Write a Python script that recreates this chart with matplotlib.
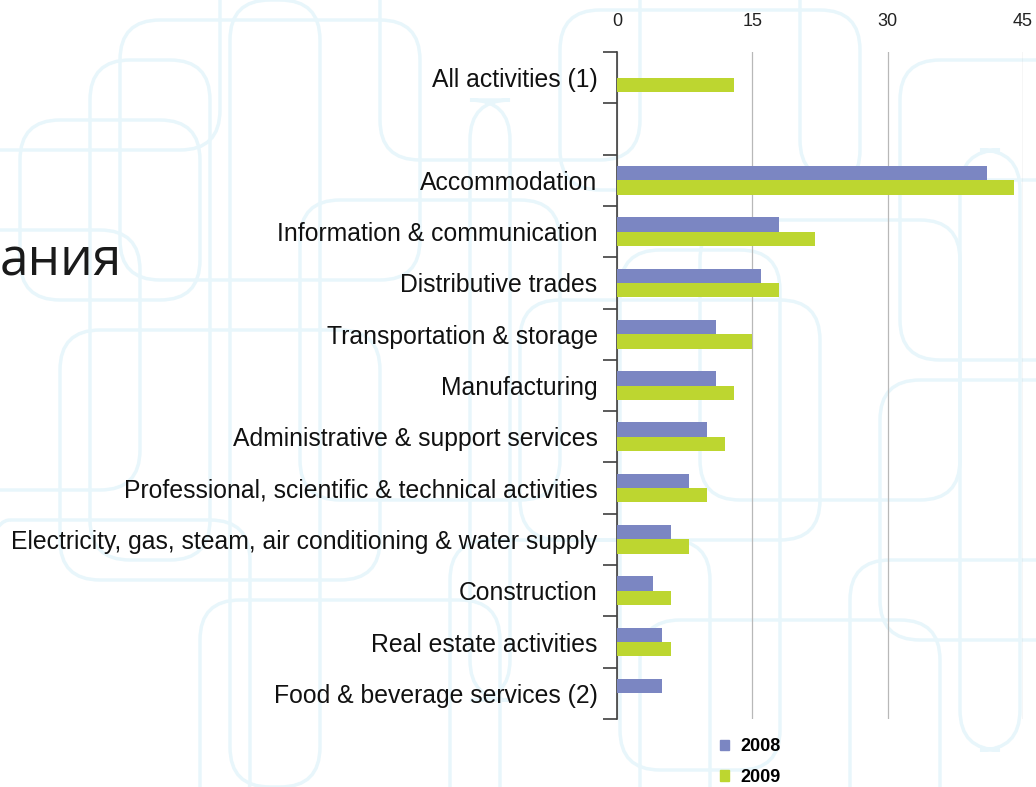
import matplotlib
matplotlib.use("Agg")
import matplotlib.pyplot as plt
import numpy as np
from matplotlib.patches import FancyBboxPatch, Patch

# Sectors, top to bottom (blank row between the total and the sectors)
categories = [
    "All activities (1)",
    "",
    "Accommodation",
    "Information & communication",
    "Distributive trades",
    "Transportation & storage",
    "Manufacturing",
    "Administrative & support services",
    "Professional, scientific & technical activities",
    "Electricity, gas, steam, air conditioning & water supply",
    "Construction",
    "Real estate activities",
    "Food & beverage services (2)",
]
values_2008 = [0, 0, 41, 18, 16, 11, 11, 10, 8, 6, 4, 5, 5]
values_2009 = [13, 0, 44, 22, 18, 15, 13, 12, 10, 8, 6, 6, 0]
x_ticks = [0, 15, 30, 45]

C2008 = "#7B86C2"
C2009 = "#BDD630"

plt.rcParams["font.family"] = ["Liberation Sans", "DejaVu Sans"]

fig = plt.figure(figsize=(10.36, 7.87), dpi=100)
fig.patch.set_facecolor("white")

# faint rounded-rectangle backdrop pattern
bg = fig.add_axes([0, 0, 1, 1], zorder=0)
bg.set_xlim(0, 1036)
bg.set_ylim(787, 0)
bg.axis("off")
boxes = [
    (-40, -60, 260, 210), (120, 20, 300, 260), (380, -40, 260, 200),
    (560, 10, 300, 180), (800, -50, 300, 230), (900, 60, 200, 300),
    (-60, 230, 200, 260), (60, 330, 320, 250), (300, 200, 260, 300),
    (520, 300, 300, 240), (700, 220, 260, 280), (880, 380, 220, 260),
    (-30, 520, 280, 300), (200, 600, 300, 240), (450, 540, 260, 300),
    (640, 620, 300, 220), (850, 560, 240, 300), (20, 120, 180, 180),
    (90, 60, 120, 500), (230, 0, 90, 787), (470, 100, 40, 600),
    (620, 250, 160, 520), (960, 150, 60, 600),
]
for x0, y0, w, h in boxes:
    bg.add_patch(FancyBboxPatch((x0, y0), w, h,
                                boxstyle="round,pad=0,rounding_size=40",
                                fill=False, ec="#e8f6fb", lw=2.5))
bg.text(0, 262, "ания", fontsize=37, color="#1a1a1a",
        va="center", ha="left", family="Open Sans")

ax = fig.add_axes([617 / 1036, 1 - 719 / 787, 406 / 1036, 667 / 787], zorder=2)
ax.patch.set_alpha(0)

y = np.arange(len(categories))
h = 0.28
ax.barh(y - h / 2, values_2008, height=h, color=C2008, label="2008", zorder=3)
ax.barh(y + h / 2, values_2009, height=h, color=C2009, label="2009", zorder=3)

ax.set_xlim(0, 45)
ax.set_ylim(len(categories) - 0.5, -0.5)
ax.xaxis.tick_top()
ax.set_xticks(x_ticks)
ax.tick_params(axis="x", length=0, pad=16, labelsize=13, labelcolor="#222222")
ax.grid(axis="x", color="#b8b8b8", lw=0.9, zorder=1)
ax.set_axisbelow(True)

ax.set_yticks(y)
ax.set_yticklabels(categories)
ax.set_yticks(np.arange(len(categories) + 1) - 0.5, minor=True)
ax.tick_params(axis="y", which="major", length=0, pad=14, labelsize=17.8,
               labelcolor="#111111")
ax.tick_params(axis="y", which="minor", length=10, width=1.2, color="#404040")

for side in ("top", "right", "bottom"):
    ax.spines[side].set_visible(False)
ax.spines["left"].set_color("#404040")
ax.spines["left"].set_linewidth(1.2)

handles = [Patch(color=C2008, label="2008"), Patch(color=C2009, label="2009")]
fig.legend(handles=handles, loc="upper left",
           bbox_to_anchor=(704 / 1036, 1 - 722 / 787), frameon=False,
           handlelength=0.5, handleheight=0.5, handletextpad=0.6,
           labelspacing=0.75, prop={"weight": "bold", "size": 13})

fig.savefig("out.png", dpi=100)
